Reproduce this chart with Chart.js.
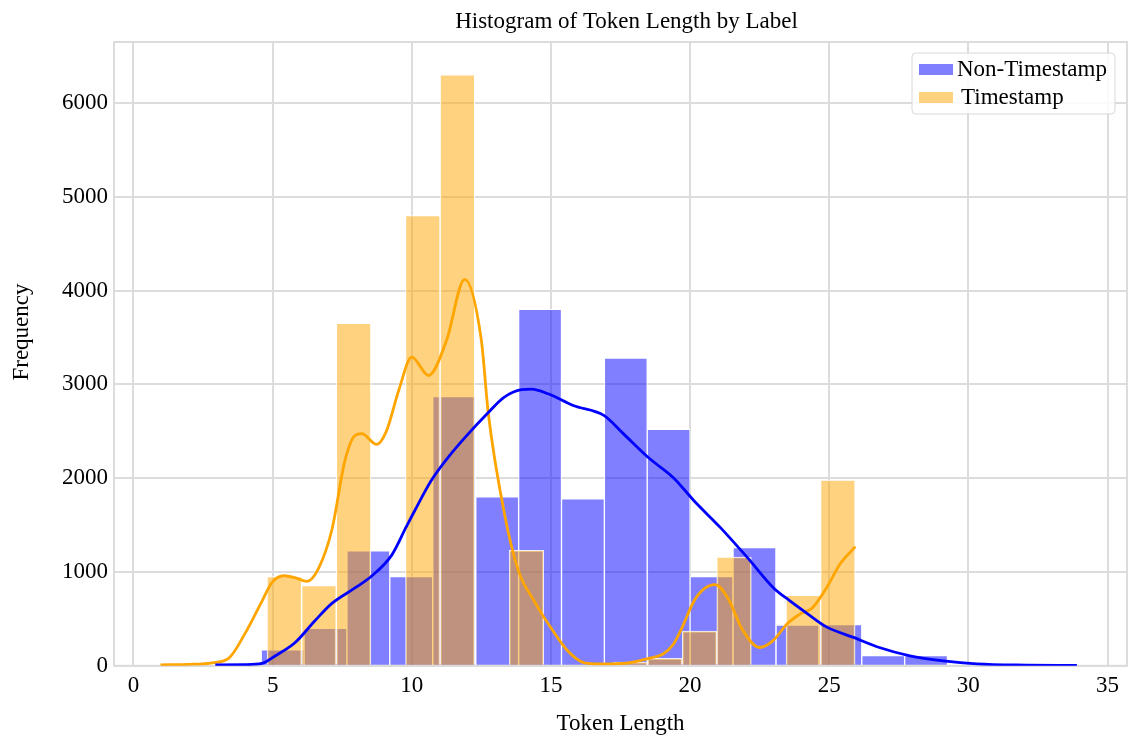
<!DOCTYPE html>
<html>
<head>
<meta charset="utf-8">
<script src="https://cdn.jsdelivr.net/npm/chart.js@4.4.0/dist/chart.umd.min.js"></script>
<style>
  html, body { margin: 0; padding: 0; background: #fff; }
  #wrap { width: 1133px; height: 738px; }
</style>
</head>
<body>
<div id="wrap"><canvas id="histChart"></canvas></div>
<script>
// bin edges (token length) and counts
const ntEdges = [4.59, 6.13, 7.67, 9.21, 10.75, 12.30, 13.84, 15.38, 16.92, 18.46, 20.00, 21.54, 23.09, 24.63, 26.17, 27.71, 29.25];
const ntCounts = [170, 400, 1225, 950, 2870, 1800, 3800, 1780, 3280, 2520, 950, 1260, 435, 440, 110, 110];

const tsEdges = [4.80, 6.04, 7.29, 8.53, 9.77, 11.02, 12.26, 13.50, 14.74, 15.99, 17.23, 18.47, 19.72, 20.96, 22.20, 23.45, 24.69, 25.93];
const tsCounts = [950, 855, 3650, 0, 4800, 6300, 0, 1230, 0, 0, 40, 80, 370, 1160, 0, 750, 1980];

// kde curves (scaled to counts)
const ntKdeX = [2.94, 4.0, 4.62, 5.09, 5.8, 6.52, 7.13, 7.96, 8.57, 9.28, 9.8, 10.1, 10.7, 11.3, 11.9, 12.75, 13.3, 13.94, 14.3, 14.9, 15.8, 16.9, 17.6, 18.5, 19.4, 20.14, 21.1, 22.07, 23.0, 23.6, 24.2, 24.9, 25.9, 26.8, 27.9, 29.1, 30.3, 32.1, 33.9];
const ntKdeY = [10, 12, 25, 105, 245, 480, 665, 830, 960, 1180, 1480, 1650, 1975, 2220, 2430, 2700, 2860, 2945, 2950, 2900, 2775, 2670, 2475, 2220, 2005, 1760, 1470, 1150, 830, 690, 560, 415, 300, 195, 107, 53, 21, 8, 4];

const tsKdeX = [0.97, 2.0, 2.83, 3.44, 4.0, 4.62, 4.98, 5.41, 5.8, 6.23, 6.66, 7.13, 7.6, 7.96, 8.2, 8.74, 9.1, 9.53, 10.0, 10.6, 11.25, 11.9, 12.5, 12.75, 13.33, 13.83, 14.4, 15.0, 15.6, 16.2, 16.8, 17.8, 18.6, 19.0, 19.4, 19.7, 20.14, 20.5, 20.9, 21.35, 21.9, 22.5, 22.97, 23.5, 23.97, 24.4, 24.9, 25.4, 25.94];
const tsKdeY = [10, 15, 32, 85, 340, 690, 890, 960, 940, 900, 1045, 1450, 2190, 2455, 2475, 2360, 2510, 2935, 3290, 3095, 3470, 4120, 3470, 2690, 1620, 1015, 690, 405, 160, 32, 20, 32, 85, 120, 230, 400, 690, 820, 865, 725, 375, 195, 265, 450, 555, 620, 830, 1090, 1270];

const xTickValues = [0, 5, 10, 15, 20, 25, 30, 35];
const yTickValues = [0, 1000, 2000, 3000, 4000, 5000, 6000];
const seriesNames = ['Non-Timestamp', 'Timestamp'];

const FONT = "'Liberation Serif', 'Times New Roman', serif";
const BLUE = 'rgba(0, 0, 255, 0.5)';
const ORANGE = 'rgba(255, 165, 0, 0.5)';
const GRID = '#dcdcdc';

function binBars(edges, counts) {
    return counts.map((c, i) => ({ x: (edges[i] + edges[i + 1]) / 2, y: c }));
}
function curve(xs, ys) {
    return xs.map((x, i) => ({ x: x, y: ys[i] }));
}

// light grey frame around the plot area
const framePlugin = {
    id: 'frame',
    beforeDatasetsDraw(chart) {
        const { ctx, chartArea: a } = chart;
        ctx.save();
        ctx.strokeStyle = GRID;
        ctx.lineWidth = 2;
        ctx.strokeRect(a.left, a.top, a.right - a.left, a.bottom - a.top);
        ctx.restore();
    }
};

// title centred over the plot area and y label, placed like matplotlib does
const labelsPlugin = {
    id: 'mplLabels',
    afterDraw(chart) {
        const { ctx, chartArea: a } = chart;
        ctx.save();
        ctx.fillStyle = '#000';
        ctx.font = '23px ' + FONT;
        ctx.textAlign = 'center';
        ctx.textBaseline = 'middle';
        ctx.fillText('Histogram of Token Length by Label', (a.left + a.right) / 2 + 6, 22);
        ctx.translate(22, 332);
        ctx.rotate(-Math.PI / 2);
        ctx.fillText('Frequency', 0, 0);
        ctx.restore();
    }
};

// matplotlib-style legend box in the upper right corner
const boxLegend = {
    id: 'boxLegend',
    afterDraw(chart) {
        const { ctx, chartArea: a } = chart;
        const w = 203, h = 61;
        const x0 = a.right - 12 - w, y0 = a.top + 11;
        ctx.save();
        ctx.fillStyle = 'rgba(255,255,255,0.85)';
        ctx.strokeStyle = '#d8d8d8';
        ctx.lineWidth = 1;
        ctx.beginPath();
        ctx.roundRect(x0, y0, w, h, 4);
        ctx.fill();
        ctx.stroke();
        const colors = [BLUE, ORANGE];
        ctx.font = '23px ' + FONT;
        ctx.textBaseline = 'middle';
        seriesNames.forEach((name, i) => {
            const cy = y0 + 16 + i * 28;
            ctx.fillStyle = colors[i];
            ctx.fillRect(x0 + 7, cy - 5, 34, 11);
            ctx.fillStyle = '#000';
            ctx.fillText(name, x0 + 45 + i * 4, cy + 1);
        });
        ctx.restore();
    }
};

const ctx = document.getElementById('histChart').getContext('2d');
const chart = new Chart(ctx, {
    type: 'bar',
    data: {
        datasets: [
            {
                type: 'line', label: seriesNames[0] + ' KDE',
                data: curve(ntKdeX, ntKdeY),
                borderColor: '#0000ff', borderWidth: 2.8,
                pointRadius: 0, tension: 0.4, cubicInterpolationMode: 'monotone',
                order: 0
            },
            {
                type: 'line', label: seriesNames[1] + ' KDE',
                data: curve(tsKdeX, tsKdeY),
                borderColor: '#ffa500', borderWidth: 2.8,
                pointRadius: 0, tension: 0.4, cubicInterpolationMode: 'monotone',
                order: 1
            },
            {
                label: seriesNames[1],
                data: binBars(tsEdges, tsCounts),
                backgroundColor: ORANGE,
                borderColor: 'rgba(255,255,255,0.85)', borderWidth: 1,
                stack: 'hist', order: 2
            },
            {
                label: seriesNames[0],
                data: binBars(ntEdges, ntCounts),
                backgroundColor: BLUE,
                borderColor: 'rgba(255,255,255,0.85)', borderWidth: 1,
                stack: 'hist', order: 3
            }
        ]
    },
    options: {
        responsive: true,
        maintainAspectRatio: false,
        animation: false,
        layout: { padding: { left: 56, right: 6, top: 42, bottom: 0 } },
        plugins: {
            legend: { display: false },
            tooltip: { enabled: false },
            title: { display: false }
        },
        scales: {
            x: {
                type: 'linear',
                min: -0.7, max: 35.7,
                offset: false,
                afterBuildTicks: s => { s.ticks = xTickValues.map(v => ({ value: v })); },
                ticks: { color: '#000', padding: 6, font: { family: FONT, size: 23 }, callback: v => String(v) },
                grid: { color: GRID, lineWidth: 2, drawTicks: false, offset: false },
                border: { display: false },
                title: {
                    display: true, text: 'Token Length', color: '#000',
                    font: { family: FONT, size: 23 },
                    padding: { top: 5, bottom: 0 }
                }
            },
            y: {
                min: 0, max: 6650,
                stacked: false,
                afterBuildTicks: s => { s.ticks = yTickValues.map(v => ({ value: v })); },
                ticks: { color: '#000', padding: 6, font: { family: FONT, size: 23 }, callback: v => String(v) },
                grid: { color: GRID, lineWidth: 2, drawTicks: false },
                border: { display: false }
            }
        }
    },
    plugins: [framePlugin, labelsPlugin, boxLegend]
});

// each histogram bar is exactly one bin wide on the x scale
const xs = chart.scales.x;
chart.data.datasets[2].barThickness = xs.getPixelForValue(tsEdges[1]) - xs.getPixelForValue(tsEdges[0]);
chart.data.datasets[3].barThickness = xs.getPixelForValue(ntEdges[1]) - xs.getPixelForValue(ntEdges[0]);
chart.update('none');
</script>
</body>
</html>
